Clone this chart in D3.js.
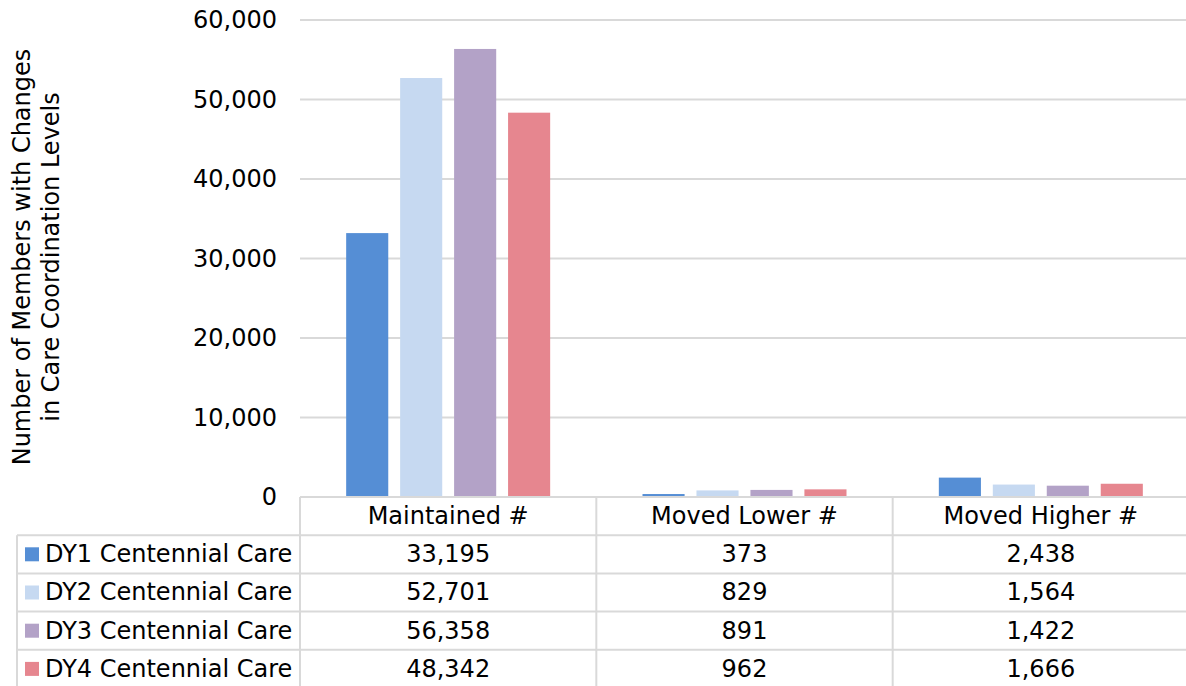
<!DOCTYPE html>
<html lang="en">
<head>
    <meta charset="UTF-8">
    <title>Care Coordination Levels</title>
    <script src="https://d3js.org/d3.v7.min.js"></script>
    <style>
        body { margin: 0; background: #fff; }
        svg { display: block; font-family: Verdana, "DejaVu Sans", sans-serif; }
        .grid line { stroke: #d9d9d9; stroke-width: 2px; }
        .tbl line { stroke: #d9d9d9; stroke-width: 2px; }
        text { fill: #000; }
    </style>
</head>
<body>
    <svg id="svg" width="1186" height="686"></svg>
    <script>
        // categories and series
        const categories = ["Maintained #", "Moved Lower #", "Moved Higher #"];
        const series = ["DY1 Centennial Care", "DY2 Centennial Care", "DY3 Centennial Care", "DY4 Centennial Care"];
        const dy1 = [33195, 373, 2438];
        const dy2 = [52701, 829, 1564];
        const dy3 = [56358, 891, 1422];
        const dy4 = [48342, 962, 1666];
        const colors = ["#558ed5", "#c6d9f1", "#b3a2c7", "#e6868f"];
        const yTicks = [0, 10000, 20000, 30000, 40000, 50000, 60000];

        const values = [dy1, dy2, dy3, dy4];
        const fontSize = 24;

        const plotLeft = 300, plotRight = 1189, plotTop = 20, plotBottom = 497;
        const rowH = 38.2;
        const legendLeft = 17;

        const svg = d3.select("#svg");

        const x = d3.scaleBand().domain(categories).range([plotLeft, plotRight]);
        const xs = d3.scaleBand().domain(series).range([0, 204]).paddingInner(0.22);
        const y = d3.scaleLinear().domain([0, 60000]).range([plotBottom, plotTop]);

        // gridlines
        svg.append("g").attr("class", "grid")
            .selectAll("line")
            .data(yTicks.filter(d => d > 0))
            .enter().append("line")
            .attr("x1", plotLeft).attr("x2", plotRight)
            .attr("y1", d => y(d)).attr("y2", d => y(d));

        // y tick labels
        const fmt = d3.format(",");
        svg.append("g")
            .selectAll("text")
            .data(yTicks)
            .enter().append("text")
            .attr("x", 277)
            .attr("y", d => y(d) + 8)
            .attr("text-anchor", "end")
            .style("font-size", fontSize + "px")
            .text(d => fmt(d));

        // y axis title
        const title = svg.append("text")
            .attr("transform", "translate(0,257) rotate(-90)")
            .attr("text-anchor", "middle")
            .style("font-size", fontSize + "px");
        title.append("tspan").attr("x", 0).attr("y", 30).text("Number of Members with Changes");
        title.append("tspan").attr("x", 0).attr("y", 59).text("in Care Coordination Levels");

        // bars
        const groups = svg.append("g")
            .selectAll("g")
            .data(series)
            .enter().append("g")
            .attr("fill", (d, i) => colors[i]);

        groups.selectAll("rect")
            .data((s, i) => categories.map((c, j) => ({cat: c, s: s, v: values[i][j]})))
            .enter().append("rect")
            .attr("x", d => x(d.cat) + (x.bandwidth() - 204) / 2 + xs(d.s))
            .attr("width", xs.bandwidth())
            .attr("y", d => y(d.v))
            .attr("height", d => y(0) - y(d.v));

        // data table
        const tbl = svg.append("g").attr("class", "tbl");
        const rowsTop = plotBottom + rowH;
        const tblBottom = rowsTop + series.length * rowH;
        tbl.append("line").attr("x1", plotLeft).attr("x2", plotRight).attr("y1", plotBottom).attr("y2", plotBottom);
        d3.range(series.length + 1).forEach(i => {
            const yy = rowsTop + i * rowH;
            tbl.append("line").attr("x1", legendLeft).attr("x2", plotRight).attr("y1", yy).attr("y2", yy);
        });
        tbl.append("line").attr("x1", legendLeft).attr("x2", legendLeft)
            .attr("y1", rowsTop).attr("y2", tblBottom);
        categories.forEach(c => {
            tbl.append("line").attr("x1", x(c)).attr("x2", x(c))
                .attr("y1", plotBottom).attr("y2", tblBottom);
        });

        // header text
        svg.append("g")
            .selectAll("text")
            .data(categories)
            .enter().append("text")
            .attr("x", d => x(d) + x.bandwidth() / 2)
            .attr("y", plotBottom + rowH / 2 + 8)
            .attr("text-anchor", "middle")
            .style("font-size", fontSize + "px")
            .text(d => d);

        // legend rows
        const rows = svg.append("g")
            .selectAll("g")
            .data(series)
            .enter().append("g")
            .attr("transform", (d, i) => `translate(0,${rowsTop + i * rowH})`);

        rows.append("rect")
            .attr("x", 25).attr("y", rowH / 2 - 7)
            .attr("width", 14).attr("height", 14)
            .attr("fill", (d, i) => colors[i]);

        rows.append("text")
            .attr("x", 45).attr("y", rowH / 2 + 8)
            .style("font-size", fontSize + "px")
            .text(d => d);

        rows.selectAll("text.val")
            .data((s, i) => values[i].map((v, j) => ({cat: categories[j], v: v})))
            .enter().append("text")
            .attr("class", "val")
            .attr("x", d => x(d.cat) + x.bandwidth() / 2)
            .attr("y", rowH / 2 + 8)
            .attr("text-anchor", "middle")
            .style("font-size", fontSize + "px")
            .text(d => fmt(d.v));
    </script>
</body>
</html>
